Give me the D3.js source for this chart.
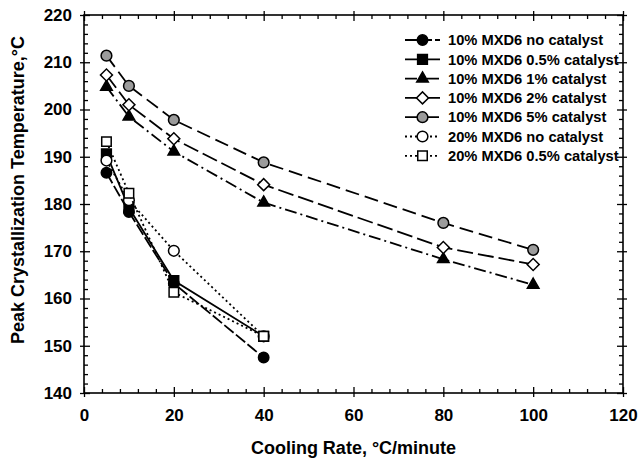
<!DOCTYPE html>
<html>
<head>
<meta charset="utf-8">
<script src="https://cdn.jsdelivr.net/npm/d3@7"></script>
<style>
  body { margin: 0; background: #fff; }
  text { font-family: "Liberation Sans", Arial, sans-serif; font-weight: bold; }
</style>
</head>
<body>
<div id="chart"></div>
<script>
// Data
var rates = [5, 10, 20, 40, 80, 100];
var mxd10NoCat = [186.6, 178.3, 163.2, 147.5];
var mxd10Cat05 = [190.6, 179.2, 163.8, 152.0];
var mxd10Cat1 = [204.8, 198.5, 191.1, 180.3, 168.3, 162.9];
var mxd10Cat2 = [207.3, 201.0, 193.8, 184.1, 170.8, 167.2];
var mxd10Cat5 = [211.4, 205.0, 197.8, 188.8, 176.0, 170.3];
var mxd20NoCat = [189.2, 180.8, 170.1, 152.0];
var mxd20Cat05 = [193.2, 182.3, 161.3, 152.0];
var seriesNames = [
  '10% MXD6 no catalyst',
  '10% MXD6 0.5% catalyst',
  '10% MXD6 1% catalyst',
  '10% MXD6 2% catalyst',
  '10% MXD6 5% catalyst',
  '20% MXD6 no catalyst',
  '20% MXD6 0.5% catalyst'
];
var xTicks = [0, 20, 40, 60, 80, 100, 120];
var yTicks = [140, 150, 160, 170, 180, 190, 200, 210, 220];

var width = 638;
var height = 461;

// marker + line style per series
var series = [
  { values: mxd10NoCat, symbol: d3.symbolCircle, size: 85, fill: '#000', dash: '12,3' },
  { values: mxd10Cat05, symbol: d3.symbolSquare, size: 95, fill: '#000', dash: null },
  { values: mxd10Cat1, symbol: d3.symbolTriangle, size: 58, fill: '#000', dash: '12,4,2,4' },
  { values: mxd10Cat2, symbol: d3.symbolSquare, size: 72, fill: '#fff', dash: '16,5', rotate: 45 },
  { values: mxd10Cat5, symbol: d3.symbolCircle, size: 90, fill: '#9b9b9b', dash: '14,6' },
  { values: mxd20NoCat, symbol: d3.symbolCircle, size: 90, fill: '#fff', dash: '2,3' },
  { values: mxd20Cat05, symbol: d3.symbolSquare, size: 90, fill: '#fff', dash: '2,3' }
].map((s, i) => Object.assign(s, {
  name: seriesNames[i],
  points: s.values.map((v, j) => ({ x: rates[j], y: v }))
}));

// Scales
const xScale = d3.scaleLinear().domain([0, 120]).range([84, 623]);
const yScale = d3.scaleLinear().domain([140, 220]).range([393, 15]);

var svg = d3.select('#chart')
  .append('svg')
  .attr('width', width)
  .attr('height', height);

// frame
svg.append('rect')
  .attr('x', xScale(0))
  .attr('y', yScale(220))
  .attr('width', xScale(120) - xScale(0))
  .attr('height', yScale(140) - yScale(220))
  .attr('fill', 'none')
  .attr('stroke', '#000')
  .attr('stroke-width', 1.6);

var xMinor = d3.range(0, 121, 4).filter(v => v % 20 !== 0);
var yMinor = d3.range(140, 221, 2).filter(v => v % 10 !== 0);

function ticks(axis, pos, values, size) {
  var g = svg.append('g')
    .attr('transform', pos)
    .call(axis.tickValues(values).tickSize(size).tickFormat(''));
  g.select('.domain').remove();
  g.selectAll('line').attr('stroke-width', 1.3);
  return g;
}

// outward major ticks with labels
var xAxis = svg.append('g')
  .attr('transform', `translate(0,${yScale(140)})`)
  .call(d3.axisBottom(xScale).tickValues(xTicks).tickSize(4).tickPadding(12));
var yAxis = svg.append('g')
  .attr('transform', `translate(${xScale(0)},0)`)
  .call(d3.axisLeft(yScale).tickValues(yTicks).tickSize(4).tickPadding(8));
[xAxis, yAxis].forEach(g => {
  g.select('.domain').remove();
  g.selectAll('line').attr('stroke-width', 1.3);
  g.selectAll('text').style('font-size', '17px').attr('fill', '#000');
});

// inward ticks on all four sides
ticks(d3.axisBottom(xScale), `translate(0,${yScale(140)})`, xTicks, -6);
ticks(d3.axisBottom(xScale), `translate(0,${yScale(140)})`, xMinor, -4);
ticks(d3.axisTop(xScale), `translate(0,${yScale(220)})`, xTicks, 4);
ticks(d3.axisTop(xScale), `translate(0,${yScale(220)})`, xTicks, -6);
ticks(d3.axisTop(xScale), `translate(0,${yScale(220)})`, xMinor, -4);
ticks(d3.axisLeft(yScale), `translate(${xScale(0)},0)`, yTicks, -6);
ticks(d3.axisLeft(yScale), `translate(${xScale(0)},0)`, yMinor, -4);
ticks(d3.axisRight(yScale), `translate(${xScale(120)},0)`, yTicks, 4);
ticks(d3.axisRight(yScale), `translate(${xScale(120)},0)`, yTicks, -6);
ticks(d3.axisRight(yScale), `translate(${xScale(120)},0)`, yMinor, -4);

// axis titles
svg.append('text')
  .attr('x', (xScale(0) + xScale(120)) / 2)
  .attr('y', 454)
  .attr('text-anchor', 'middle')
  .style('font-size', '18px')
  .text('Cooling Rate, °C/minute');

svg.append('text')
  .attr('transform', 'translate(24,190) rotate(-90)')
  .attr('text-anchor', 'middle')
  .style('font-size', '18px')
  .text('Peak Crystallization Temperature,°C');

const line = d3.line()
  .x(d => xScale(d.x))
  .y(d => yScale(d.y));

function marker(s) {
  return d3.symbol().type(s.symbol).size(s.size)();
}

// series: line then markers
series.forEach(s => {
  svg.append('path')
    .datum(s.points)
    .attr('d', line)
    .attr('fill', 'none')
    .attr('stroke', '#000')
    .attr('stroke-width', 1.8)
    .attr('stroke-dasharray', s.dash);

  svg.selectAll(null)
    .data(s.points)
    .enter()
    .append('path')
    .attr('d', marker(s))
    .attr('transform', d => `translate(${xScale(d.x)},${yScale(d.y)}) rotate(${s.rotate || 0})`)
    .attr('fill', s.fill)
    .attr('stroke', '#000')
    .attr('stroke-width', 1.5);
});

// Legend
var legend = svg.append('g').attr('transform', 'translate(405,40)');
const rows = legend.selectAll('g')
  .data(series)
  .enter()
  .append('g')
  .attr('transform', (d, i) => `translate(0,${i * 19.3})`);

rows.append('line')
  .attr('x1', 0)
  .attr('x2', 35)
  .attr('stroke', '#000')
  .attr('stroke-width', 1.8)
  .attr('stroke-dasharray', d => d.dash);

rows.append('path')
  .attr('d', d => marker(d))
  .attr('transform', d => `translate(17.5,0) rotate(${d.rotate || 0})`)
  .attr('fill', d => d.fill)
  .attr('stroke', '#000')
  .attr('stroke-width', 1.5);

rows.append('text')
  .attr('x', 43)
  .attr('dy', '0.36em')
  .style('font-size', '14.7px')
  .text(d => d.name);
</script>
</body>
</html>
